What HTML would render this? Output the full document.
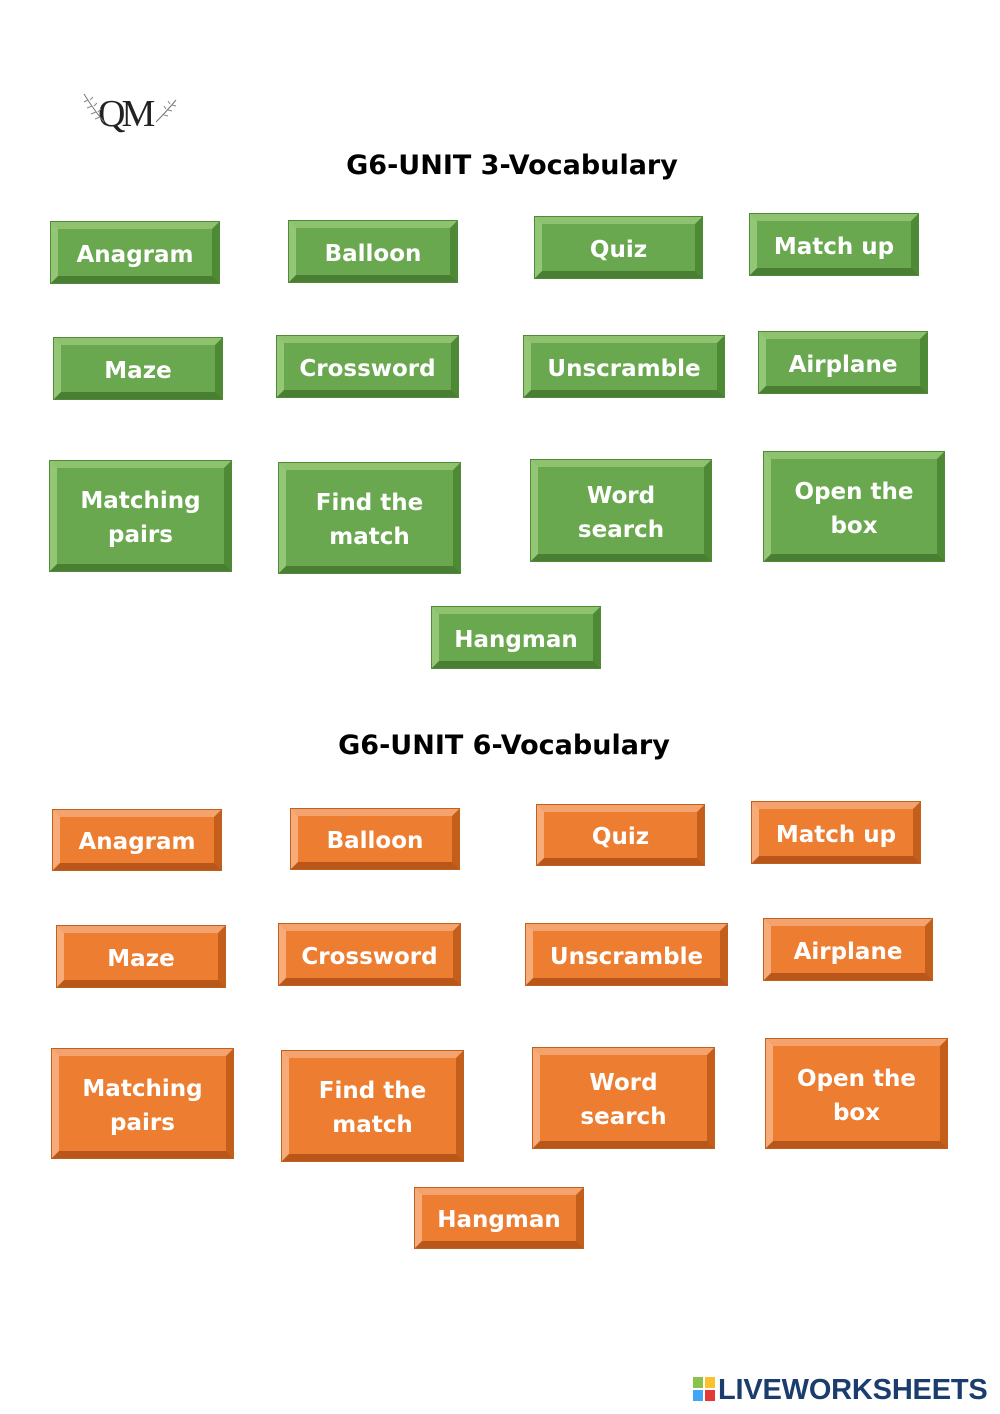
<!DOCTYPE html>
<html><head><meta charset="utf-8"><style>
body{margin:0;background:#fff;}
#p{position:relative;width:1000px;height:1414px;overflow:hidden;font-family:"DejaVu Sans","Liberation Sans",sans-serif;}
.b{position:absolute;box-sizing:border-box;border-style:solid;border-width:7px;display:flex;align-items:center;justify-content:center;text-align:center;color:#fff;font-weight:bold;font-size:23px;line-height:34px;padding-top:4px;}
.g{background:#6aa84f;border-color:#8fc26f #4e8a36 #4a7f33 #93c775;box-shadow:0 0 0 1px #4f8a37;}
.o{background:#ed7d31;border-color:#f5a36e #c45e1b #b9571a #f6ab78;box-shadow:0 0 0 1px #c0601f;}
.t{position:absolute;left:0;width:1024px;text-align:center;font-weight:bold;font-size:27px;color:#000;}
</style></head><body><div id="p">
<div style="position:absolute;left:98px;top:92px;font-family:'Liberation Serif',serif;font-size:38px;color:#222;letter-spacing:-4px;">QM</div>
<svg style="position:absolute;left:80px;top:88px" width="100" height="50">
<path d="M4 6 Q14 22 24 34" stroke="#777" fill="none"/>
<path d="M8 12 l-4 2 M12 18 l-5 2 M16 24 l-5 2 M20 29 l-5 2 M10 12 l3 -3 M14 18 l3 -3 M18 24 l3 -3" stroke="#888" fill="none"/>
<path d="M96 12 Q86 24 76 34" stroke="#777" fill="none"/>
<path d="M92 17 l4 1 M88 22 l4 1 M84 27 l4 1 M90 16 l-2 -3 M86 21 l-2 -3" stroke="#888" fill="none"/>
</svg>
<div class="t" style="top:150px;">G6-UNIT 3-Vocabulary</div>
<div class="t" style="top:730px;left:-8px;">G6-UNIT 6-Vocabulary</div>

<div class="b g" style="left:51px;top:222px;width:168px;height:61px">Anagram</div>
<div class="b g" style="left:289px;top:221px;width:168px;height:61px">Balloon</div>
<div class="b g" style="left:535px;top:217px;width:167px;height:61px">Quiz</div>
<div class="b g" style="left:750px;top:214px;width:168px;height:61px">Match up</div>
<div class="b g" style="left:54px;top:338px;width:168px;height:61px">Maze</div>
<div class="b g" style="left:277px;top:336px;width:181px;height:61px">Crossword</div>
<div class="b g" style="left:524px;top:336px;width:200px;height:61px">Unscramble</div>
<div class="b g" style="left:759px;top:332px;width:168px;height:61px">Airplane</div>
<div class="b g" style="left:50px;top:461px;width:181px;height:110px">Matching<br>pairs</div>
<div class="b g" style="left:279px;top:463px;width:181px;height:110px">Find the<br>match</div>
<div class="b g" style="left:531px;top:460px;width:180px;height:101px">Word<br>search</div>
<div class="b g" style="left:764px;top:452px;width:180px;height:109px">Open the<br>box</div>
<div class="b g" style="left:432px;top:607px;width:168px;height:61px">Hangman</div>

<div class="b o" style="left:53px;top:810px;width:168px;height:60px">Anagram</div>
<div class="b o" style="left:291px;top:809px;width:168px;height:60px">Balloon</div>
<div class="b o" style="left:537px;top:805px;width:167px;height:60px">Quiz</div>
<div class="b o" style="left:752px;top:802px;width:168px;height:61px">Match up</div>
<div class="b o" style="left:57px;top:926px;width:168px;height:61px">Maze</div>
<div class="b o" style="left:279px;top:924px;width:181px;height:61px">Crossword</div>
<div class="b o" style="left:526px;top:924px;width:201px;height:61px">Unscramble</div>
<div class="b o" style="left:764px;top:919px;width:168px;height:61px">Airplane</div>
<div class="b o" style="left:52px;top:1049px;width:181px;height:109px">Matching<br>pairs</div>
<div class="b o" style="left:282px;top:1051px;width:181px;height:110px">Find the<br>match</div>
<div class="b o" style="left:533px;top:1048px;width:181px;height:100px">Word<br>search</div>
<div class="b o" style="left:766px;top:1039px;width:181px;height:109px">Open the<br>box</div>
<div class="b o" style="left:415px;top:1188px;width:168px;height:60px">Hangman</div>

<div style="position:absolute;left:693px;top:1377px;width:22px;height:24px;">
<div style="position:absolute;left:0;top:0;width:10px;height:11px;background:#8bc34a"></div>
<div style="position:absolute;left:12px;top:0;width:10px;height:11px;background:#fbc02d"></div>
<div style="position:absolute;left:0;top:13px;width:10px;height:11px;background:#42a5f5"></div>
<div style="position:absolute;left:12px;top:13px;width:10px;height:11px;background:#e53935"></div>
</div>
<div style="position:absolute;left:718px;top:1374px;font-family:'Liberation Sans',sans-serif;font-weight:bold;font-size:29px;color:#1a3d6e;letter-spacing:-0.2px;">LIVEWORKSHEETS</div>
</div></body></html>
